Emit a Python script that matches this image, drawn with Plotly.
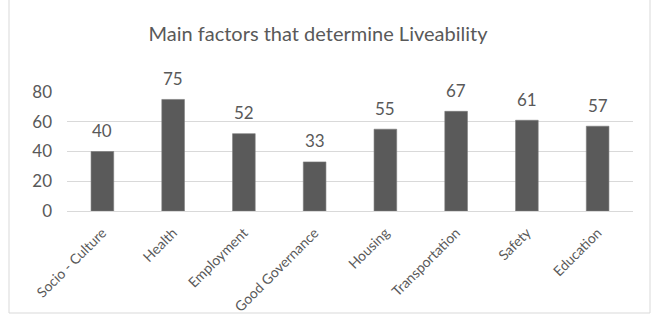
import plotly.graph_objects as go

categories = ["Socio - Culture", "Health", "Employment", "Good Governance",
              "Housing", "Transportation", "Safety", "Education"]
values = [40, 75, 52, 33, 55, 67, 61, 57]
y_ticks = [0, 20, 40, 60, 80]
title_text = "Main factors that determine Liveability"

FONT = "Lato"
GRAY = "#595959"

fig = go.Figure()
fig.add_trace(go.Bar(
    x=categories, y=values,
    marker=dict(color="#5a5a5a", line=dict(color="#7a7a7a", width=0.6)),
    width=0.32,
))

for c, v in zip(categories, values):
    fig.add_annotation(x=c, y=v, text=str(v), showarrow=False,
                       yanchor="middle", yshift=21,
                       font=dict(family=FONT, size=17, color=GRAY))

L, R, T, B = 67, 21, 92, 119
W, H = 654, 330
pw, ph = W - L - R, H - T - B
fig.add_shape(type="rect", xref="paper", yref="paper",
              x0=(9 - L) / pw, x1=(650 - L) / pw,
              y0=(H - T - 340) / ph, y1=(H - T - 11) / ph,
              line=dict(color="#d9d9d9", width=1), fillcolor="rgba(0,0,0,0)",
              layer="below")

fig.update_layout(
    width=W, height=H,
    margin=dict(l=L, r=R, t=T, b=B),
    paper_bgcolor="white", plot_bgcolor="white",
    showlegend=False,
    title=dict(text=title_text, x=318 / W, xanchor="center",
               y=1 - 34 / H, yanchor="middle",
               font=dict(family=FONT, size=20, color=GRAY)),
    bargap=0.68,
)
fig.update_xaxes(tickangle=-45, tickfont=dict(family=FONT, size=14, color=GRAY),
                 showline=False, showgrid=False, ticks="",
                 ticklabelstandoff=10)
fig.update_yaxes(range=[0, 80], tickvals=y_ticks,
                 tickfont=dict(family=FONT, size=17, color=GRAY),
                 gridcolor="#d9d9d9", gridwidth=1, zeroline=True,
                 zerolinecolor="#d9d9d9", zerolinewidth=1,
                 showline=False, ticks="", ticklabelstandoff=14)

fig.write_html("out.html")
